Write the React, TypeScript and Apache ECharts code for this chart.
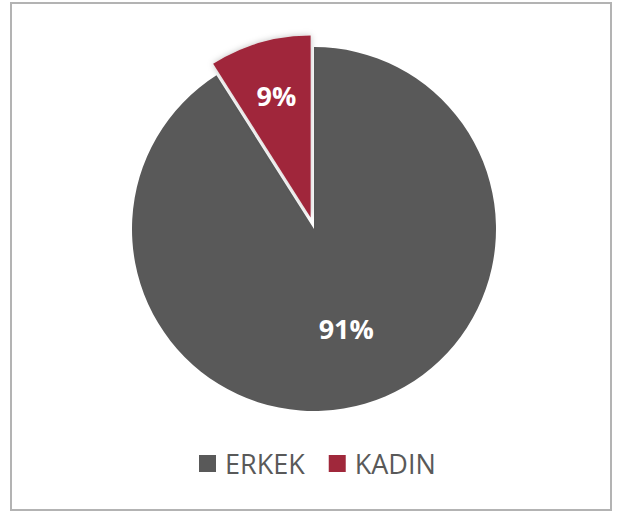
import React, { useEffect, useRef } from "react";
import * as echarts from "echarts";

const categories = ["ERKEK", "KADIN"];
const values = [91, 9];
const colors = ["#595959", "#A0283B"];
const labelShifts: [number, number][] = [[6, 9], [-8, -32]];

export default function App() {
  const ref = useRef<HTMLDivElement>(null);
  useEffect(() => {
    document.body.style.margin = "0";
    const chart = echarts.init(ref.current!, null, { renderer: "svg" });
    chart.setOption({
      animation: false,
      backgroundColor: "#ffffff",
      graphic: [
        {
          type: "rect",
          shape: { x: 11, y: 3, width: 600, height: 507 },
          style: { fill: "none", stroke: "#b3b3b3", lineWidth: 2 },
          silent: true,
        },
      ],
      legend: {
        bottom: 32,
        left: 194,
        icon: "rect",
        itemWidth: 17,
        itemHeight: 17,
        itemGap: 24,
        textStyle: {
          color: "#595959",
          fontSize: 27,
          fontFamily: "Open Sans",
          padding: [0, 0, 0, 4],
        },
        data: categories,
      },
      series: [
        {
          type: "pie",
          center: [314, 229],
          radius: 182,
          startAngle: 90,
          clockwise: true,
          selectedMode: "single",
          selectedOffset: 12,
          label: {
            show: true,
            position: "inside",
            color: "#ffffff",
            fontSize: 27,
            fontWeight: "bold",
            fontFamily: "Open Sans",
            formatter: "{d}%",
          },
          labelLine: { show: false },
          labelLayout: (p: any) => ({
            dx: labelShifts[p.dataIndex][0],
            dy: labelShifts[p.dataIndex][1],
          }),
          emphasis: { disabled: true },
          data: categories.map((name, i) => ({
            name,
            value: values[i],
            selected: i === 1,
            itemStyle: {
              color: colors[i],
              shadowBlur: i === 1 ? 6 : 0,
              shadowColor: "rgba(0,0,0,0.25)",
            },
          })),
        },
      ],
    });
    return () => chart.dispose();
  }, []);
  return <div ref={ref} style={{ width: 627, height: 514 }} />;
}
